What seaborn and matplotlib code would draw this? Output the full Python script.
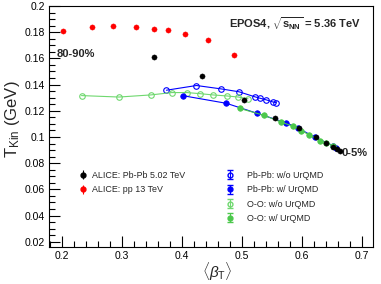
import numpy as np
import pandas as pd
import matplotlib
matplotlib.use("Agg")
import matplotlib.pyplot as plt
from matplotlib.ticker import MultipleLocator, FuncFormatter
import seaborn as sns

# ---------------- data ----------------
pp_beta = [0.202, 0.251, 0.286, 0.324, 0.354, 0.377, 0.4055, 0.444, 0.487]
pp_tkin = [0.1811, 0.1838, 0.1844, 0.1838, 0.1821, 0.1818, 0.1790, 0.1738, 0.1628]

pbpb_beta = [0.354, 0.434, 0.5045, 0.556, 0.5955, 0.6235, 0.641, 0.652, 0.658, 0.663]
pbpb_tkin = [0.1608, 0.1467, 0.1282, 0.1144, 0.1069, 0.0997, 0.0955, 0.0925, 0.0905, 0.0893]

pb_noU_beta = [0.3745, 0.4245, 0.4658, 0.4955, 0.5217, 0.5312, 0.5412, 0.5522, 0.557]
pb_noU_tkin = [0.1357, 0.1393, 0.1367, 0.1345, 0.1307, 0.1295, 0.1283, 0.1267, 0.1262]

pb_U_beta = [0.4022, 0.4745, 0.5262, 0.5732, 0.5938, 0.6217, 0.6522, 0.657]
pb_U_tkin = [0.1315, 0.1257, 0.1180, 0.1109, 0.1069, 0.0998, 0.0934, 0.0915]

oo_noU_beta = [0.233, 0.2955, 0.3483, 0.3833, 0.4088, 0.430, 0.4522, 0.4755, 0.4945, 0.5105]
oo_noU_tkin = [0.1316, 0.1305, 0.1321, 0.1339, 0.1339, 0.1331, 0.1321, 0.1313, 0.1305, 0.1292]

oo_U_beta = [0.4967, 0.5372, 0.5662, 0.5855, 0.5995, 0.6117, 0.6305, 0.6412, 0.6517]
oo_U_tkin = [0.1218, 0.1165, 0.1113, 0.1082, 0.1049, 0.1018, 0.0972, 0.0954, 0.0934]

legend_left = ["ALICE: Pb-Pb 5.02 TeV", "ALICE: pp 13 TeV"]
legend_right = ["Pb-Pb: w/o UrQMD", "Pb-Pb: w/ UrQMD", "O-O: w/o UrQMD", "O-O: w/ UrQMD"]

# ---------------- style ----------------
sns.set_theme(style="ticks")
plt.rcParams["font.family"] = ["Liberation Sans", "DejaVu Sans"]
plt.rcParams["mathtext.fontset"] = "custom"
plt.rcParams["mathtext.rm"] = "Liberation Sans"
plt.rcParams["mathtext.it"] = "Liberation Sans:italic"
plt.rcParams["mathtext.bf"] = "Liberation Sans:bold"

BLUE = "#0000ff"
GREEN_O = "#6fd86f"
GREEN_F = "#4cc84c"

fig = plt.figure(figsize=(3.81, 2.84), dpi=100)
ax = fig.add_axes([49 / 381, 1 - 247 / 284, 324 / 381, 241 / 284])

ms = 4.0
lw = 0.8

sns.lineplot(x=pb_noU_beta, y=pb_noU_tkin, sort=False, estimator=None, ax=ax,
             color=BLUE, linewidth=lw, marker="o", markersize=ms,
             markerfacecolor="none", markeredgecolor=BLUE, markeredgewidth=0.8)
sns.lineplot(x=oo_noU_beta, y=oo_noU_tkin, sort=False, estimator=None, ax=ax,
             color=GREEN_O, linewidth=lw, marker="o", markersize=ms,
             markerfacecolor="none", markeredgecolor=GREEN_O, markeredgewidth=0.8)
sns.lineplot(x=pb_U_beta, y=pb_U_tkin, sort=False, estimator=None, ax=ax,
             color=BLUE, linewidth=lw, marker="o", markersize=ms,
             markerfacecolor=BLUE, markeredgecolor=BLUE, markeredgewidth=0.5)
sns.lineplot(x=oo_U_beta, y=oo_U_tkin, sort=False, estimator=None, ax=ax,
             color=GREEN_F, linewidth=lw, marker="o", markersize=ms,
             markerfacecolor=GREEN_F, markeredgecolor=GREEN_F, markeredgewidth=0.5)
sns.scatterplot(x=pbpb_beta, y=pbpb_tkin, ax=ax, color="black", s=14,
                edgecolor="black", linewidth=0.3, zorder=5)
sns.scatterplot(x=pp_beta, y=pp_tkin, ax=ax, color="#ff0000", s=14,
                edgecolor="#ff0000", linewidth=0.3, zorder=5)

ax.set_xlim(0.1788, 0.7188)
ax.set_ylim(0.016, 0.2)

ax.xaxis.set_major_locator(MultipleLocator(0.1))
ax.xaxis.set_minor_locator(MultipleLocator(0.02))
ax.yaxis.set_major_locator(MultipleLocator(0.02))
ax.yaxis.set_minor_locator(MultipleLocator(0.005))
fmt = FuncFormatter(lambda v, p: f"{v:.2f}".rstrip("0").rstrip(".") if abs(v) > 1e-9 else "0")
ax.xaxis.set_major_formatter(fmt)
ax.yaxis.set_major_formatter(fmt)
ax.tick_params(which="both", direction="in", top=False, right=False,
               labelsize=7.5, colors="black", width=0.8)
ax.tick_params(which="major", length=8, pad=3)
ax.tick_params(which="minor", length=4)
for s in ax.spines.values():
    s.set_linewidth(0.8)
    s.set_color("black")
    s.set_visible(True)

ax.set_ylabel(r"T$_{\mathrm{Kin}}$ (GeV)", fontsize=12, va="center")
ax.yaxis.set_label_coords(-0.114, 0.53)
ax.set_xlabel(r"$\langle\beta_{\mathrm{T}}\rangle$", fontsize=11, va="center")
ax.xaxis.set_label_coords(0.519, -0.105)

ax.text(0.1917, 0.1636, "80-90%", fontsize=8, fontweight="bold", va="center", ha="left")
ax.text(0.6667, 0.0875, "0-5%", fontsize=8, fontweight="bold", va="center", ha="left")
ax.text(0.4783, 0.1862, r"EPOS4, $\sqrt{\mathbf{s}_{\mathbf{NN}}}$ = 5.36 TeV",
        fontsize=8, fontweight="bold", va="center", ha="left")

# legends
h_black = ax.errorbar([np.nan], [np.nan], yerr=[np.nan], fmt="o", color="black", ms=3.5, elinewidth=0.8)
h_red = ax.errorbar([np.nan], [np.nan], yerr=[np.nan], fmt="o", color="#ff0000", ms=3.5, elinewidth=0.8)
h_b_o = ax.errorbar([np.nan], [np.nan], yerr=[np.nan], fmt="o", color=BLUE, mfc="none", ms=3.5, elinewidth=0.8, capsize=2)
h_b_f = ax.errorbar([np.nan], [np.nan], yerr=[np.nan], fmt="o", color=BLUE, ms=3.5, elinewidth=0.8, capsize=2)
h_g_o = ax.errorbar([np.nan], [np.nan], yerr=[np.nan], fmt="o", color=GREEN_O, mfc="none", ms=3.5, elinewidth=0.8, capsize=2)
h_g_f = ax.errorbar([np.nan], [np.nan], yerr=[np.nan], fmt="o", color=GREEN_F, ms=3.5, elinewidth=0.8, capsize=2)

leg1 = ax.legend([h_black, h_red], legend_left, loc="upper left",
                 bbox_to_anchor=((79 - 49) / 324, (247 - 171) / 241),
                 frameon=False, fontsize=6.4, handlelength=1.0, handletextpad=0.5,
                 labelspacing=0.6, borderpad=0, borderaxespad=0)
ax.add_artist(leg1)
ax.legend([h_b_o, h_b_f, h_g_o, h_g_f], legend_right, loc="upper left",
          bbox_to_anchor=((222 - 49) / 324, (247 - 171) / 241),
          frameon=False, fontsize=6.4, handlelength=1.8, handletextpad=1.0,
          labelspacing=0.6, borderpad=0, borderaxespad=0)

fig.savefig("out.png", dpi=100)
